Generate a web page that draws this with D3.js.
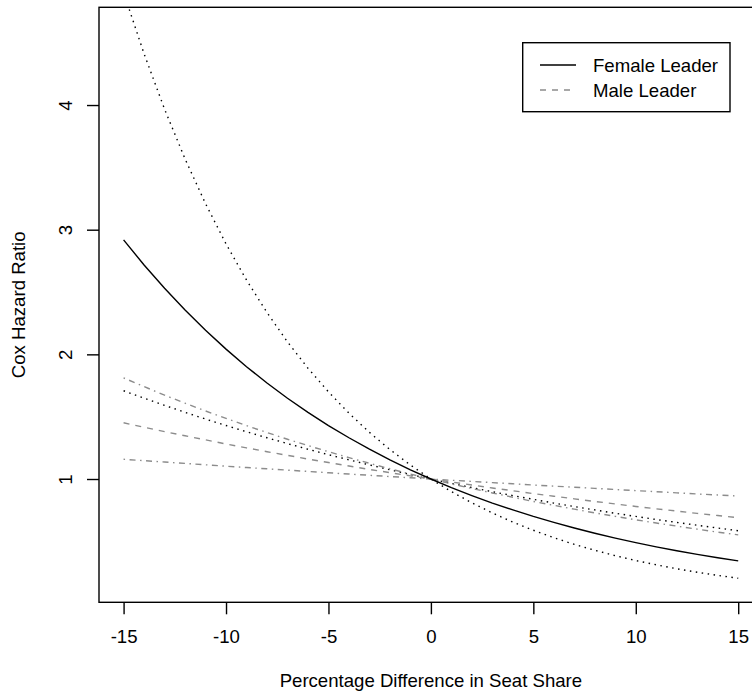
<!DOCTYPE html>
<html>
<head>
<meta charset="utf-8">
<script src="https://cdn.jsdelivr.net/npm/d3@7"></script>
<style>
  html, body { margin: 0; padding: 0; background: #fff; }
  svg { display: block; }
  text { font-family: "Liberation Sans", Arial, Helvetica, sans-serif; fill: #000; }
</style>
</head>
<body>
<div id="chart"></div>
<script>
// ---- data ----
const xValues = [-15,-14,-13,-12,-11,-10,-9,-8,-7,-6,-5,-4,-3,-2,-1,0,1,2,3,4,5,6,7,8,9,10,11,12,13,14,15];
const femaleLeader = [2.918,2.717,2.530,2.356,2.193,2.042,1.901,1.770,1.648,1.535,1.429,1.331,1.239,1.154,1.074,1,0.931,0.867,0.807,0.752,0.700,0.652,0.607,0.565,0.526,0.490,0.456,0.425,0.395,0.368,0.343];
const femaleUpper  = [4.904,4.411,3.967,3.568,3.209,2.886,2.596,2.335,2.100,1.889,1.699,1.528,1.374,1.236,1.112,1,0.899,0.809,0.728,0.654,0.589,0.529,0.476,0.428,0.385,0.346,0.312,0.280,0.252,0.227,0.204];
const femaleLower  = [1.708,1.648,1.591,1.535,1.481,1.429,1.379,1.331,1.284,1.239,1.195,1.154,1.113,1.074,1.036,1,0.965,0.931,0.898,0.867,0.837,0.807,0.779,0.752,0.725,0.700,0.675,0.652,0.629,0.607,0.585];
const maleLeader   = [1.451,1.415,1.380,1.347,1.314,1.281,1.250,1.219,1.190,1.160,1.132,1.104,1.077,1.051,1.025,1,0.976,0.952,0.928,0.906,0.883,0.862,0.841,0.820,0.800,0.780,0.761,0.743,0.724,0.707,0.689];
const maleUpper    = [1.811,1.741,1.673,1.608,1.546,1.486,1.428,1.373,1.319,1.268,1.219,1.172,1.126,1.082,1.040,1,0.961,0.924,0.888,0.854,0.820,0.789,0.758,0.728,0.700,0.673,0.647,0.622,0.598,0.574,0.552];
const maleLower    = [1.158,1.147,1.136,1.125,1.114,1.103,1.092,1.082,1.071,1.061,1.050,1.040,1.030,1.020,1.010,1,0.990,0.981,0.971,0.962,0.952,0.943,0.934,0.925,0.916,0.907,0.898,0.889,0.880,0.872,0.863];
const xTicks = [-15,-10,-5,0,5,10,15];
const yTicks = [1,2,3,4];
const legendLabels = ["Female Leader","Male Leader"];
const xTitle = "Percentage Difference in Seat Share";
const yTitle = "Cox Hazard Ratio";

// ---- layout ----
const W = 752, H = 694;
const FS = 18.6;
const box = { left: 99, right: 762.8, top: 7.3, bottom: 602.3 };

const svg = d3.select("#chart").append("svg").attr("width", W).attr("height", H);
svg.append("rect").attr("width", W).attr("height", H).attr("fill", "#fff");

const x = d3.scaleLinear().domain([-16.2, 16.2]).range([box.left, box.right]);
const y = d3.scaleLinear().domain([0.011, 4.784]).range([box.bottom, box.top]);

svg.append("clipPath").attr("id", "plotclip")
  .append("rect")
  .attr("x", box.left).attr("y", box.top)
  .attr("width", box.right - box.left).attr("height", box.bottom - box.top);

const u = 1.5; // dash unit
const styles = {
  solid: null,
  dashed: `${4*u},${4*u}`,
  dotted: `${1*u},${3*u}`,
  dotdash: `${1*u},${3*u},${4*u},${3*u}`
};
const GRAY = "#8c8c8c";

const series = [
  { values: femaleUpper,  color: "#000", dash: styles.dotted },
  { values: femaleLower,  color: "#000", dash: styles.dotted },
  { values: maleUpper,    color: GRAY,   dash: styles.dotdash },
  { values: maleLower,    color: GRAY,   dash: styles.dotdash },
  { values: maleLeader,   color: GRAY,   dash: styles.dashed },
  { values: femaleLeader, color: "#000", dash: styles.solid }
];

const line = d3.line()
  .x((d, i) => x(xValues[i]))
  .y(d => y(d))
  .curve(d3.curveLinear);

const plot = svg.append("g").attr("clip-path", "url(#plotclip)");
series.forEach(s => {
  plot.append("path")
    .datum(s.values)
    .attr("d", line)
    .attr("fill", "none")
    .attr("stroke", s.color)
    .attr("stroke-width", 1.4)
    .attr("stroke-dasharray", s.dash);
});

// ---- axes ----
const xAxis = d3.axisBottom(x).tickValues(xTicks).tickSize(12).tickPadding(4)
  .tickFormat(d => d);
const gx = svg.append("g").attr("transform", `translate(0,${box.bottom})`).call(xAxis);
gx.select(".domain").remove();
gx.selectAll(".tick line").attr("stroke", "#000").attr("stroke-width", 1.4);
gx.selectAll(".tick text")
  .attr("font-size", FS)
  .attr("font-family", '"Liberation Sans", Arial, sans-serif')
  .attr("y", 41).attr("dy", null);

const yAxis = d3.axisLeft(y).tickValues(yTicks).tickSize(12).tickFormat(d => d);
const gy = svg.append("g").attr("transform", `translate(${box.left},0)`).call(yAxis);
gy.select(".domain").remove();
gy.selectAll(".tick line").attr("stroke", "#000").attr("stroke-width", 1.4);
gy.selectAll(".tick text")
  .attr("font-size", FS)
  .attr("font-family", '"Liberation Sans", Arial, sans-serif')
  .attr("x", null).attr("dy", null)
  .attr("text-anchor", "middle")
  .attr("transform", `translate(${72 - box.left},0) rotate(-90)`);

// ---- box ----
svg.append("rect")
  .attr("x", box.left).attr("y", box.top)
  .attr("width", box.right - box.left).attr("height", box.bottom - box.top)
  .attr("fill", "none").attr("stroke", "#000").attr("stroke-width", 1.4);

// ---- titles ----
svg.append("text")
  .attr("x", (box.left + box.right) / 2).attr("y", 687)
  .attr("text-anchor", "middle").attr("font-size", FS)
  .text(xTitle);
svg.append("text")
  .attr("transform", `translate(25,${(box.top + box.bottom) / 2}) rotate(-90)`)
  .attr("text-anchor", "middle").attr("font-size", FS)
  .text(yTitle);

// ---- legend ----
const lg = svg.append("g");
lg.append("rect")
  .attr("x", 522.7).attr("y", 42.7).attr("width", 730 - 522.7).attr("height", 111.7 - 42.7)
  .attr("fill", "#fff").attr("stroke", "#000").attr("stroke-width", 1.4);
const legendItems = [
  { label: legendLabels[0], color: "#000", dash: styles.solid, cy: 65 },
  { label: legendLabels[1], color: GRAY, dash: styles.dashed, cy: 90 }
];
legendItems.forEach(it => {
  lg.append("line")
    .attr("x1", 540).attr("x2", 576).attr("y1", it.cy).attr("y2", it.cy)
    .attr("stroke", it.color).attr("stroke-width", 1.4)
    .attr("stroke-dasharray", it.dash);
  lg.append("text")
    .attr("x", 593).attr("y", it.cy + 6.7)
    .attr("font-size", FS)
    .text(it.label);
});
</script>
</body>
</html>
